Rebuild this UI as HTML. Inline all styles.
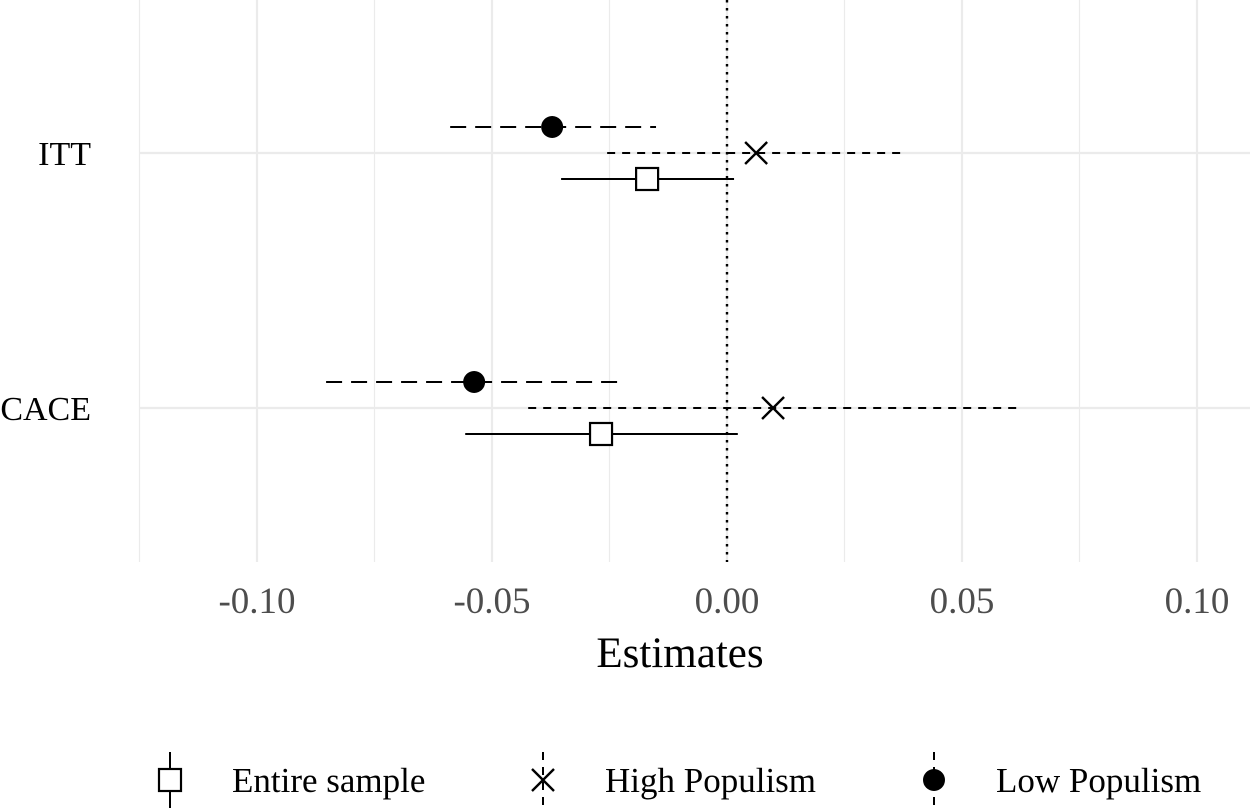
<!DOCTYPE html>
<html><head><meta charset="utf-8"><style>
html,body{margin:0;padding:0;background:#fff;}
svg{display:block;font-family:"Liberation Serif",serif;}
</style></head><body>
<svg id="chart" width="1250" height="808" viewBox="0 0 1250 808">
<g id="grid"></g>
<g id="marks"></g>
<g id="axes"></g>
<text x="680" y="667" font-size="43" text-anchor="middle" fill="#000">Estimates</text>
<g id="legend"></g>
</svg>
<script>
const categories = ["ITT", "CACE"];
const seriesNames = ["Low Populism", "High Populism", "Entire sample"];
const lowEst = [-0.0372, -0.0538];
const lowLo = [-0.0589, -0.0853];
const lowHi = [-0.0151, -0.0223];
const highEst = [0.0062, 0.0098];
const highLo = [-0.0255, -0.0423];
const highHi = [0.0379, 0.0623];
const entEst = [-0.0170, -0.0268];
const entLo = [-0.0353, -0.0557];
const entHi = [0.0015, 0.0023];
const xTicks = [-0.10, -0.05, 0.00, 0.05, 0.10];
const xTickLabels = ["-0.10", "-0.05", "0.00", "0.05", "0.10"];

const NS = "http://www.w3.org/2000/svg";
const xScale = v => 727 + v * 4700;
const yCat = i => [153, 408][i];
function mk(tag, attrs, parent){const e=document.createElementNS(NS,tag);for(const k in attrs)e.setAttribute(k,attrs[k]);parent.appendChild(e);return e;}
const gridG=document.getElementById('grid'), marksG=document.getElementById('marks'), axesG=document.getElementById('axes'), legendG=document.getElementById('legend');
const panelTop=0, panelBot=562, panelLeft=139, panelRight=1250;
for(let v=-0.125; v<=0.1251; v+=0.05){
  const l=mk('line',{x1:xScale(v),x2:xScale(v),y1:panelTop,y2:panelBot,stroke:'#ebebeb','stroke-width':1.2},gridG);
  
  
}
xTicks.forEach((v,i)=>{
  const l=mk('line',{x1:xScale(v),x2:xScale(v),y1:panelTop,y2:panelBot,stroke:'#ebebeb','stroke-width':2.2},gridG);
  
  
  const t=mk('text',{x:xScale(v),y:613,'font-size':37,'text-anchor':'middle',fill:'#4d4d4d'},axesG);
  t.textContent=xTickLabels[i];
  
  
});
categories.forEach((c,i)=>{
  const l=mk('line',{x1:panelLeft,x2:panelRight,y1:yCat(i),y2:yCat(i),stroke:'#ebebeb','stroke-width':2.2},gridG);
  
  
  const t=mk('text',{x:91,y:yCat(i)+12,'font-size':34,'text-anchor':'end',fill:'#000'},axesG);
  t.textContent=c;
  
  
});
const zl=mk('line',{x1:xScale(0),x2:xScale(0),y1:panelTop,y2:panelBot,stroke:'#000','stroke-width':2.4,'stroke-dasharray':'2.5 5.5'},marksG);



function shape(kind,cx,cy,g){
  if(kind==='square'){mk('rect',{x:cx-11,y:cy-11,width:22,height:22,fill:'#fff',stroke:'#000','stroke-width':2.2},g);}
  else if(kind==='cross'){mk('path',{d:`M${cx-11} ${cy-11}L${cx+11} ${cy+11}M${cx-11} ${cy+11}L${cx+11} ${cy-11}`,stroke:'#000','stroke-width':2.4,fill:'none'},g);}
  else {mk('circle',{cx:cx,cy:cy,r:11,fill:'#000'},g);}
}
const seriesDefs=[
  {est:lowEst,lo:lowLo,hi:lowHi,off:-26,dash:'16 9',kind:'circle',name:'low-populism'},
  {est:highEst,lo:highLo,hi:highHi,off:0,dash:'8 7',kind:'cross',name:'high-populism'},
  {est:entEst,lo:entLo,hi:entHi,off:26,dash:'none',kind:'square',name:'entire-sample'}
];
seriesDefs.forEach(s=>{
  categories.forEach((c,i)=>{
    const g=mk('g',{},marksG);
    
    
    const yy=yCat(i)+s.off;
    mk('line',{x1:xScale(s.lo[i]),x2:xScale(s.hi[i]),y1:yy,y2:yy,stroke:'#000','stroke-width':2,'stroke-dasharray':s.dash},g);
    shape(s.kind,xScale(s.est[i]),yy,g);
  });
});
const legItems=[
  {kind:'square',dash:'none',label:'Entire sample',lx:170},
  {kind:'cross',dash:'8 7',label:'High Populism',lx:543},
  {kind:'circle',dash:'8 7',label:'Low Populism',lx:934}
];
legItems.forEach(L=>{
  const g=mk('g',{},legendG);
  
  
  mk('line',{x1:L.lx,x2:L.lx,y1:752,y2:808,stroke:'#000','stroke-width':2,'stroke-dasharray':L.dash},g);
  shape(L.kind,L.lx,780,g);
  const t=mk('text',{x:L.lx+62,y:792,'font-size':35,fill:'#000'},g);
  t.textContent=L.label;
});
</script>
</body></html>
